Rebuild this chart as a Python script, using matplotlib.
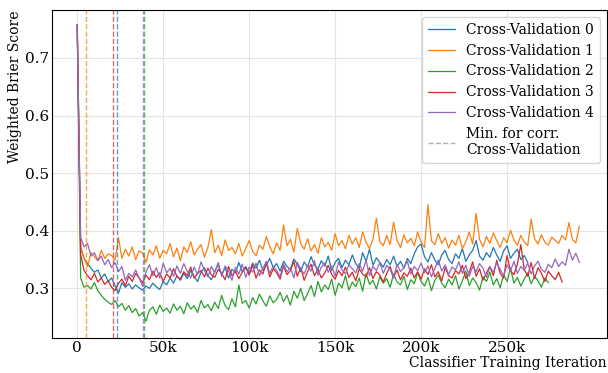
import numpy as np
import matplotlib
matplotlib.use("Agg")
import matplotlib.pyplot as plt
from matplotlib.lines import Line2D
from matplotlib.ticker import FuncFormatter

# weighted brier score per cross-validation fold, logged every 2000 iterations
step = 2000

cv0 = [0.757, 0.370, 0.352, 0.343, 0.335, 0.328, 0.332, 0.318, 0.325, 0.312,
       0.318, 0.305, 0.292, 0.310, 0.302, 0.308, 0.299, 0.306, 0.301, 0.297,
       0.304, 0.300, 0.309, 0.303, 0.298, 0.312, 0.306, 0.318, 0.309, 0.322,
       0.314, 0.326, 0.317, 0.331, 0.320, 0.312, 0.328, 0.336, 0.322, 0.315,
       0.330, 0.341, 0.324, 0.336, 0.318, 0.333, 0.327, 0.345, 0.329, 0.338,
       0.326, 0.344, 0.335, 0.349, 0.331, 0.340, 0.352, 0.336, 0.343, 0.330,
       0.347, 0.338, 0.333, 0.351, 0.342, 0.329, 0.346, 0.337, 0.355, 0.340,
       0.334, 0.348, 0.339, 0.356, 0.331, 0.345, 0.352, 0.336, 0.349, 0.341,
       0.358, 0.343, 0.335, 0.362, 0.347, 0.368, 0.340, 0.353, 0.345, 0.337,
       0.350, 0.341, 0.356, 0.338, 0.347, 0.335, 0.352, 0.343, 0.360, 0.372,
       0.377, 0.355, 0.346, 0.362, 0.349, 0.341, 0.358, 0.366, 0.350, 0.343,
       0.360, 0.352, 0.369, 0.347, 0.358, 0.366, 0.383, 0.356, 0.349, 0.362,
       0.354, 0.371, 0.358, 0.347, 0.365, 0.374, 0.352, 0.361, 0.368, 0.350,
       0.357, 0.345]

cv1 = [0.757, 0.372, 0.352, 0.338, 0.362, 0.355, 0.348, 0.366, 0.352, 0.360,
       0.357, 0.349, 0.388, 0.352, 0.368, 0.356, 0.372, 0.350, 0.365, 0.361,
       0.345, 0.367, 0.358, 0.374, 0.352, 0.366, 0.360, 0.378, 0.355, 0.370,
       0.348, 0.372, 0.362, 0.381, 0.358, 0.368, 0.376, 0.354, 0.371, 0.402,
       0.362, 0.375, 0.357, 0.384, 0.366, 0.371, 0.360, 0.378, 0.356, 0.369,
       0.383, 0.364, 0.357, 0.375, 0.368, 0.390, 0.372, 0.360, 0.379, 0.366,
       0.410, 0.374, 0.385, 0.363, 0.404, 0.378, 0.368, 0.386, 0.365, 0.376,
       0.361, 0.388, 0.372, 0.380, 0.366, 0.395, 0.374, 0.383, 0.369, 0.392,
       0.377, 0.388, 0.371, 0.398, 0.380, 0.369, 0.385, 0.422, 0.381, 0.374,
       0.392, 0.376, 0.415, 0.384, 0.371, 0.393, 0.379, 0.387, 0.374, 0.398,
       0.380, 0.371, 0.445, 0.383, 0.376, 0.395, 0.378, 0.388, 0.370, 0.384,
       0.375, 0.392, 0.369, 0.381, 0.398, 0.377, 0.430, 0.385, 0.372, 0.390,
       0.378, 0.396, 0.383, 0.371, 0.388, 0.379, 0.401, 0.384, 0.375, 0.392,
       0.381, 0.374, 0.420, 0.386, 0.377, 0.393, 0.380, 0.375, 0.389, 0.383,
       0.378, 0.392, 0.384, 0.414, 0.385, 0.379, 0.408]

cv2 = [0.757, 0.318, 0.302, 0.305, 0.299, 0.310, 0.296, 0.288, 0.281, 0.276,
       0.272, 0.279, 0.268, 0.274, 0.262, 0.270, 0.258, 0.265, 0.252, 0.258,
       0.243, 0.262, 0.268, 0.255, 0.271, 0.260, 0.266, 0.257, 0.273, 0.262,
       0.269, 0.256, 0.275, 0.264, 0.270, 0.258, 0.279, 0.266, 0.272, 0.261,
       0.276, 0.265, 0.288, 0.270, 0.263, 0.282, 0.268, 0.306, 0.274, 0.279,
       0.266, 0.284, 0.273, 0.290, 0.278, 0.269, 0.287, 0.275, 0.281, 0.293,
       0.277, 0.288, 0.271, 0.295, 0.283, 0.300, 0.279, 0.291, 0.305, 0.286,
       0.312, 0.294, 0.306, 0.298, 0.316, 0.288, 0.309, 0.301, 0.322, 0.297,
       0.311, 0.303, 0.318, 0.295, 0.326, 0.307, 0.314, 0.299, 0.320, 0.309,
       0.317, 0.302, 0.325, 0.311, 0.306, 0.321, 0.298, 0.315, 0.308, 0.327,
       0.312, 0.304, 0.319, 0.296, 0.314, 0.323, 0.309, 0.301, 0.316, 0.306,
       0.322, 0.299, 0.313, 0.330, 0.305, 0.318, 0.310, 0.297, 0.320, 0.312,
       0.328, 0.306, 0.317, 0.301, 0.324, 0.312, 0.335, 0.309, 0.319, 0.304,
       0.316, 0.327, 0.308, 0.321, 0.313, 0.302, 0.318, 0.310]

cv3 = [0.757, 0.358, 0.331, 0.322, 0.315, 0.326, 0.311, 0.318, 0.307, 0.313,
       0.302, 0.296, 0.309, 0.316, 0.305, 0.321, 0.312, 0.326, 0.318, 0.310,
       0.323, 0.315, 0.330, 0.319, 0.327, 0.312, 0.325, 0.318, 0.334, 0.321,
       0.316, 0.329, 0.322, 0.337, 0.318, 0.326, 0.331, 0.320, 0.335, 0.324,
       0.319, 0.333, 0.326, 0.315, 0.338, 0.322, 0.330, 0.317, 0.328, 0.336,
       0.323, 0.341, 0.318, 0.332, 0.325, 0.345, 0.320, 0.334, 0.327, 0.316,
       0.339, 0.324, 0.331, 0.347, 0.321, 0.336, 0.314, 0.329, 0.342, 0.322,
       0.333, 0.318, 0.327, 0.340, 0.324, 0.316, 0.331, 0.322, 0.337, 0.319,
       0.328, 0.313, 0.334, 0.325, 0.320, 0.336, 0.317, 0.329, 0.323, 0.311,
       0.326, 0.338, 0.319, 0.332, 0.315, 0.327, 0.321, 0.335, 0.318, 0.329,
       0.316, 0.334, 0.324, 0.341, 0.320, 0.329, 0.313, 0.336, 0.322, 0.318,
       0.331, 0.325, 0.340, 0.317, 0.328, 0.346, 0.321, 0.334, 0.314, 0.327,
       0.338, 0.322, 0.349, 0.326, 0.318, 0.357, 0.330, 0.324, 0.342, 0.376,
       0.333, 0.321, 0.345, 0.317, 0.336, 0.326, 0.312, 0.330, 0.322, 0.315,
       0.328, 0.311]

cv4 = [0.757, 0.388, 0.372, 0.378, 0.356, 0.362, 0.348, 0.356, 0.341, 0.350,
       0.336, 0.345, 0.329, 0.338, 0.314, 0.326, 0.320, 0.332, 0.318, 0.304,
       0.329, 0.341, 0.322, 0.336, 0.318, 0.344, 0.327, 0.335, 0.321, 0.339,
       0.326, 0.343, 0.330, 0.318, 0.337, 0.324, 0.346, 0.331, 0.320, 0.338,
       0.327, 0.345, 0.321, 0.339, 0.330, 0.314, 0.336, 0.325, 0.342, 0.319,
       0.337, 0.328, 0.344, 0.322, 0.335, 0.347, 0.326, 0.339, 0.331, 0.320,
       0.342, 0.329, 0.336, 0.318, 0.345, 0.333, 0.325, 0.340, 0.330, 0.348,
       0.323, 0.337, 0.344, 0.328, 0.339, 0.321, 0.346, 0.332, 0.325, 0.341,
       0.334, 0.327, 0.343, 0.330, 0.349, 0.322, 0.338, 0.331, 0.345, 0.326,
       0.340, 0.333, 0.318, 0.342, 0.329, 0.336, 0.347, 0.325, 0.338, 0.331,
       0.344, 0.327, 0.339, 0.320, 0.335, 0.349, 0.330, 0.341, 0.324, 0.337,
       0.332, 0.346, 0.326, 0.340, 0.321, 0.338, 0.329, 0.343, 0.335, 0.319,
       0.337, 0.328, 0.345, 0.333, 0.322, 0.341, 0.330, 0.347, 0.326, 0.338,
       0.331, 0.344, 0.325, 0.339, 0.347, 0.333, 0.328, 0.342, 0.336, 0.351,
       0.338, 0.346, 0.340, 0.368, 0.349, 0.361, 0.345]

scores = [cv0, cv1, cv2, cv3, cv4]
# iteration with the lowest score for each fold
best_iters = [23300, 5000, 39100, 21100, 38200]
colors = ["tab:blue", "tab:orange", "tab:green", "tab:red", "tab:purple"]

plt.rcParams["font.family"] = "DejaVu Serif"
plt.rcParams["font.size"] = 10

fig = plt.figure(figsize=(6.08, 3.73), dpi=100)
ax = fig.add_axes([0.086, 0.094, 0.912, 0.879])

for i, s in enumerate(scores):
    it = np.arange(len(s)) * step
    ax.plot(it, s, color=colors[i], lw=0.9, label="Cross-Validation %d" % i)
for i, b in enumerate(best_iters):
    ax.axvline(b, color=colors[i], ls="--", lw=1.0, alpha=0.7)

ax.set_ylim(0.214, 0.783)
ax.set_xlim(-14500, 308000)
ax.set_xticks([0, 50000, 100000, 150000, 200000, 250000])
ax.xaxis.set_major_formatter(FuncFormatter(lambda v, p: "0" if v == 0 else "%dk" % (v / 1000)))
ax.set_yticks([0.3, 0.4, 0.5, 0.6, 0.7])
ax.tick_params(length=0, labelsize=11, pad=2)
ax.grid(True, color="#e3e3e3", lw=0.8)
ax.set_axisbelow(True)

ax.set_xlabel("Classifier Training Iteration", loc="right", labelpad=1)
ax.set_ylabel("Weighted Brier Score", loc="top", labelpad=2)

handles, labels = ax.get_legend_handles_labels()
handles.append(Line2D([], [], color="grey", ls="--", lw=1.0, alpha=0.6))
labels.append("Min. for corr.\nCross-Validation")
ax.legend(handles, labels, loc="upper right", fontsize=10)

fig.savefig("out.png", dpi=100)
